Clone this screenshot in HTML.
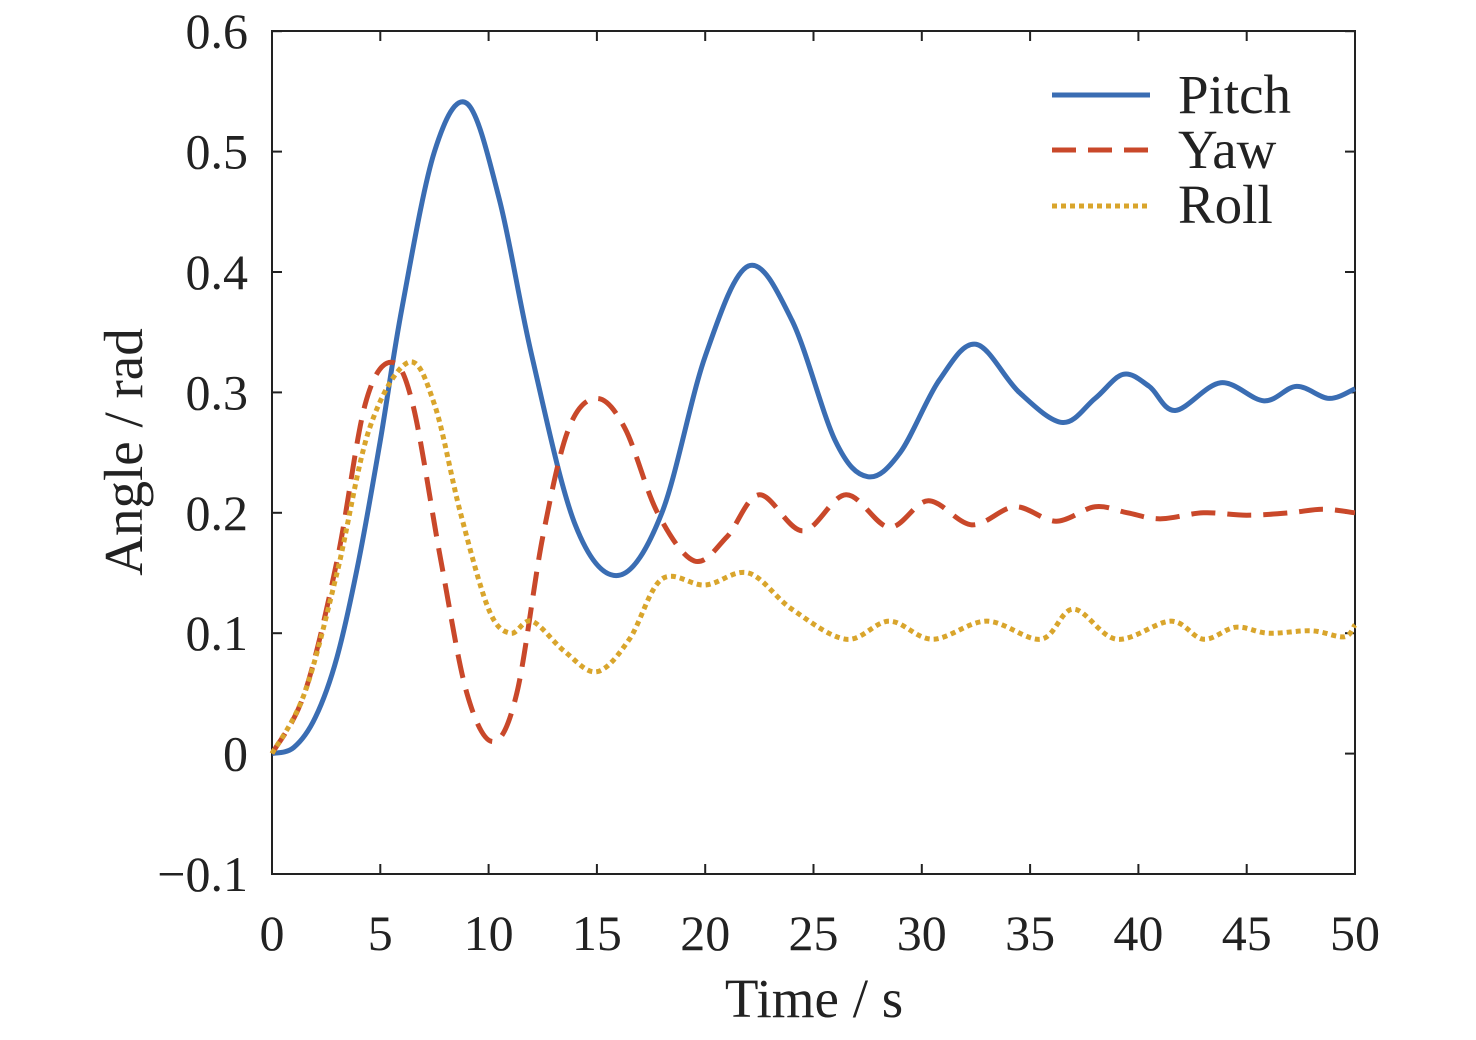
<!DOCTYPE html>
<html><head><meta charset="utf-8"><style>
html,body{margin:0;padding:0;background:#fff}
text{font-family:"Liberation Serif",serif;fill:#222}
</style></head><body>
<svg id="s" width="1476" height="1035" xmlns="http://www.w3.org/2000/svg">
<rect x="272" y="31" width="1083" height="843" fill="none" stroke="#222" stroke-width="2"/>
<g id="ticks" stroke="#222" stroke-width="2"></g>
<g id="labels" font-size="50"></g>
<text x="814" y="1017" font-size="55" text-anchor="middle">Time / s</text>
<text transform="translate(142,452) rotate(-90)" font-size="55" text-anchor="middle">Angle / rad</text>
<g id="curves" fill="none" stroke-width="5"></g>
<line x1="1052" y1="95" x2="1150" y2="95" stroke="#3a6db3" stroke-width="5"/>
<line x1="1052" y1="150" x2="1150" y2="150" stroke="#c9482a" stroke-width="5" stroke-dasharray="24,12"/>
<line x1="1052" y1="206" x2="1150" y2="206" stroke="#d9a52c" stroke-width="5" stroke-dasharray="5,4"/>
<text x="1178" y="113" font-size="55">Pitch</text>
<text x="1178" y="168" font-size="55">Yaw</text>
<text x="1178" y="223" font-size="55">Roll</text>
</svg>
<script>
const X=t=>272+t*21.66, Y=v=>753.6-v*1204;
const NS="http://www.w3.org/2000/svg";
const tk=document.getElementById('ticks'),lb=document.getElementById('labels');
function el(p,tag,a,txt){const e=document.createElementNS(NS,tag);for(const k in a)e.setAttribute(k,a[k]);if(txt)e.textContent=txt;p.appendChild(e);}
for(let t=0;t<=50;t+=5){const x=X(t);el(tk,'line',{x1:x,y1:874,x2:x,y2:864});el(tk,'line',{x1:x,y1:31,x2:x,y2:41});el(lb,'text',{x:x,y:950,'text-anchor':'middle'},String(t));}
for(let i=-1;i<=6;i++){const y=Y(i/10);el(tk,'line',{x1:272,y1:y,x2:282,y2:y});el(tk,'line',{x1:1355,y1:y,x2:1345,y2:y});
el(lb,'text',{x:248,y:y+17,'text-anchor':'end'},i==0?'0':(i<0?'\u22120.1':'0.'+i));}
function path(pts){let d='M'+X(pts[0][0])+','+Y(pts[0][1]);
for(let i=0;i<pts.length-1;i++){const p0=pts[Math.max(i-1,0)],p1=pts[i],p2=pts[i+1],p3=pts[Math.min(i+2,pts.length-1)];
const a=[X(p0[0]),Y(p0[1])],b=[X(p1[0]),Y(p1[1])],c=[X(p2[0]),Y(p2[1])],e=[X(p3[0]),Y(p3[1])];
d+=' C'+(b[0]+(c[0]-a[0])/6)+','+(b[1]+(c[1]-a[1])/6)+' '+(c[0]-(e[0]-b[0])/6)+','+(c[1]-(e[1]-b[1])/6)+' '+c[0]+','+c[1];}
return d;}
const cv=document.getElementById('curves');
const pitch=[[0,0],[1,0.005],[2,0.03],[3,0.08],[4,0.16],[5,0.26],[6,0.37],[7.5,0.5],[9,0.54],[10.5,0.46],[12,0.33],[14,0.19],[16,0.148],[18,0.2],[20,0.33],[22,0.405],[24,0.36],[26,0.26],[27.5,0.23],[29,0.25],[30.8,0.31],[32.5,0.34],[34.5,0.3],[36.5,0.275],[38,0.295],[39.3,0.315],[40.5,0.305],[41.7,0.285],[43.8,0.308],[45.8,0.293],[47.3,0.305],[48.8,0.295],[50,0.303]];
const yaw=[[0,0],[1.5,0.05],[3,0.16],[4.3,0.29],[5.5,0.325],[6.5,0.29],[7.8,0.16],[9,0.05],[10.2,0.01],[11.3,0.05],[12.5,0.18],[13.7,0.27],[15,0.295],[16.3,0.27],[17.8,0.2],[19.5,0.16],[21,0.18],[22.5,0.215],[24.5,0.185],[26.5,0.215],[28.5,0.188],[30.3,0.21],[32.3,0.19],[34.3,0.205],[36.2,0.193],[38,0.205],[39.5,0.2],[41,0.195],[43,0.2],[45,0.198],[47,0.2],[48.5,0.203],[50,0.2]];
const roll=[[0,0],[1.5,0.05],[3,0.15],[4.5,0.27],[6.3,0.325],[7.5,0.29],[8.7,0.2],[10,0.12],[11,0.1],[12,0.11],[13.5,0.085],[15,0.068],[16.5,0.095],[18,0.145],[20,0.14],[22,0.15],[24,0.12],[26.5,0.095],[28.5,0.11],[30.5,0.095],[33,0.11],[35.5,0.095],[37,0.12],[39,0.095],[41.5,0.11],[43,0.095],[44.5,0.105],[46,0.1],[48,0.102],[49.5,0.097],[50,0.107]];
el(cv,'path',{d:path(pitch),stroke:'#3a6db3'});
el(cv,'path',{d:path(yaw),stroke:'#c9482a','stroke-dasharray':'24,12'});
el(cv,'path',{d:path(roll),stroke:'#d9a52c','stroke-dasharray':'5,4'});
</script>
</body></html>
